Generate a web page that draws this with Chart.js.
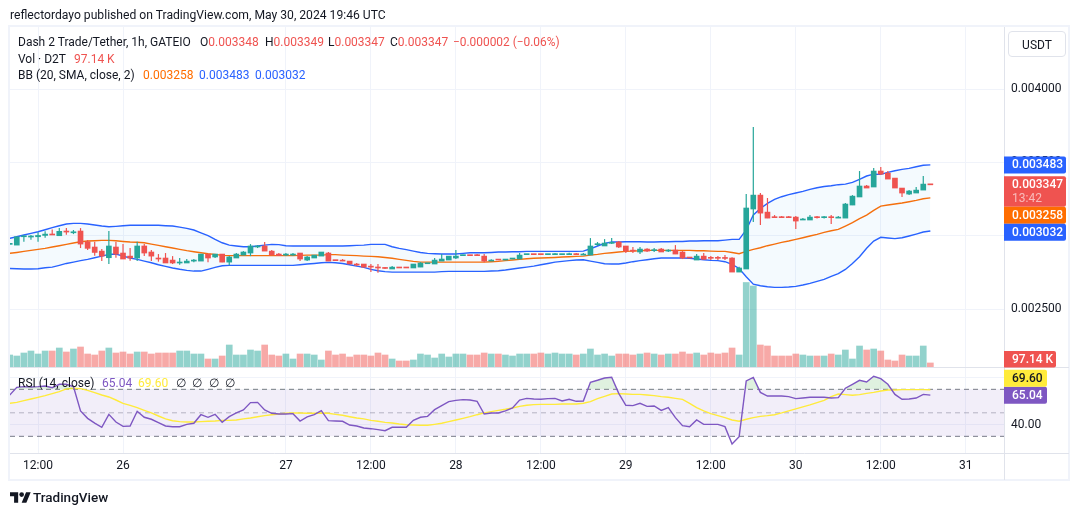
<!DOCTYPE html>
<html lang="en">
<head>
<meta charset="UTF-8">
<title>Dash 2 Trade/Tether, 1h, GATEIO</title>
<script src="https://cdn.jsdelivr.net/npm/chart.js@4.4.1/dist/chart.umd.js"></script>
<style>
  body { margin: 0; background: #fff; font-family: Roboto, sans-serif; font-size: 12px; color: #131722; }
  #wrap { position: relative; width: 1080px; height: 515px; overflow: hidden; }
  canvas { position: absolute; left: 0; top: 0; }
  .t { position: absolute; white-space: pre; line-height: 16px; }
  .red { color: #ef5350; } .org { color: #ff6d00; } .blu { color: #2962ff; } .pur { color: #7e57c2; } .yel { color: #ffeb3b; }
  #unit { position: absolute; left: 1008px; top: 31px; width: 56px; height: 24px; border: 1px solid #e0e3eb; border-radius: 4px; text-align: center; line-height: 26px; }
</style>
</head>
<body>
<div id="wrap">
  <canvas id="chart" width="1080" height="515"></canvas>
  <div class="t" style="left:10px;top:7px;font-size:12.15px">reflectordayo published on TradingView.com, May 30, 2024 19:46 UTC</div>
  <div class="t" style="left:18px;top:34px">Dash 2 Trade/Tether, 1h, GATEIO</div>
  <div class="t" style="left:200px;top:34px">O<span class="red">0.003348</span></div>
  <div class="t" style="left:265px;top:34px">H<span class="red">0.003349</span></div>
  <div class="t" style="left:328px;top:34px">L<span class="red">0.003347</span></div>
  <div class="t" style="left:390px;top:34px">C<span class="red">0.003347</span></div>
  <div class="t red" style="left:453px;top:34px;font-size:11.9px">−0.000002 (−0.06%)</div>
  <div class="t" style="left:18px;top:51px">Vol · D2T</div>
  <div class="t red" style="left:74px;top:51px">97.14 K</div>
  <div class="t" style="left:18px;top:67px">BB (20, SMA, close, 2)</div>
  <div class="t org" style="left:143px;top:67px">0.003258</div>
  <div class="t blu" style="left:199px;top:67px">0.003483</div>
  <div class="t blu" style="left:255px;top:67px">0.003032</div>
  <div class="t" style="left:18px;top:375px">RSI (14, close)</div>
  <div class="t pur" style="left:102px;top:375px">65.04</div>
  <div class="t yel" style="left:138px;top:375px">69.60</div>
  <div class="t" style="left:176px;top:375px">∅</div>
  <div class="t" style="left:192px;top:375px">∅</div>
  <div class="t" style="left:209px;top:375px">∅</div>
  <div class="t" style="left:225px;top:375px">∅</div>
  <div id="unit">USDT</div>
  <svg style="position:absolute;left:10px;top:491px" width="21" height="13" viewBox="0 0 36 22" fill="#131722"><path d="M14 20H7V9H0V2h14v18zM28 20h-8l7.5-18h8L28 20z"/><circle cx="20" cy="6" r="4"/></svg>
  <div class="t" style="left:33px;top:489px;font-size:13.5px;font-weight:500">TradingView</div>
</div>
<script>
// candles in millionths of USDT, one per hour bar
const opens = [2941,2936,2993,2991,2993,3002,3009,3000,3032,3020,
  3032,2959,2923,2895,2850,2923,2882,2861,2848,2930,
  2889,2848,2848,2834,2814,2814,2827,2827,2875,2855,
  2875,2820,2848,2868,2882,2923,2930,2895,2875,2868,
  2868,2882,2834,2848,2861,2882,2832,2832,2827,2807,
  2807,2791,2784,2782,2773,2784,2784,2780,2786,2809,
  2807,2827,2834,2848,2864,2868,2868,2861,2827,2839,
  2834,2841,2841,2871,2875,2875,2871,2871,2871,2871,
  2875,2868,2868,2939,2930,2948,2957,2930,2900,2889,
  2909,2898,2909,2895,2902,2889,2852,2834,2861,2850,
  2850,2852,2848,2752,2773,3182,3277,3161,3127,3127,
  3127,3127,3107,3107,3127,3123,3127,3120,3120,3209,
  3264,3339,3332,3441,3427,3393,3325,3284,3291,3311,3348];
const highs = [2948,2993,3000,3005,3023,3030,3043,3052,3052,3039,
  3052,2970,2959,2909,3032,2959,2943,2916,2959,2943,
  2902,2875,2882,2861,2848,2841,2841,2875,2875,2875,
  2875,2861,2882,2895,2943,2936,2957,2902,2882,2882,
  2882,2882,2861,2868,2889,2889,2832,2841,2827,2814,
  2807,2807,2807,2786,2793,2784,2784,2807,2820,2814,
  2848,2875,2861,2902,2871,2868,2875,2875,2839,2839,
  2841,2848,2882,2875,2875,2875,2875,2882,2875,2884,
  2882,2882,2984,2957,2977,2984,2964,2930,2923,2923,
  2914,2916,2916,2907,2936,2895,2852,2875,2882,2861,
  2861,2868,2854,2789,3284,3741,3291,3257,3141,3134,
  3134,3134,3120,3141,3134,3134,3141,3134,3223,3277,
  3441,3345,3461,3468,3441,3393,3325,3311,3332,3407,3349];
const lows = [2941,2936,2959,2973,2959,2986,3005,3000,3007,3011,
  2916,2902,2864,2827,2807,2850,2841,2830,2827,2861,
  2827,2823,2814,2807,2802,2814,2820,2827,2820,2848,
  2820,2798,2848,2868,2861,2916,2895,2868,2864,2861,
  2864,2827,2827,2848,2861,2827,2830,2827,2807,2793,
  2784,2752,2748,2773,2773,2780,2780,2780,2786,2809,
  2807,2827,2834,2841,2864,2864,2864,2820,2827,2834,
  2834,2841,2841,2871,2871,2871,2871,2871,2871,2871,
  2871,2868,2868,2930,2930,2943,2916,2882,2882,2875,
  2889,2889,2889,2889,2875,2841,2848,2834,2839,2834,
  2834,2834,2752,2752,2773,3093,3073,3120,3123,3123,
  3123,3045,3107,3107,3118,3118,3080,3120,3120,3209,
  3264,3325,3332,3414,3386,3325,3264,3277,3291,3311,3347];
const closes = [2948,2993,3000,2998,3002,3011,3005,3030,3025,3027,
  2943,2914,2886,2861,2930,2875,2841,2848,2930,2882,
  2861,2841,2814,2814,2820,2827,2834,2875,2848,2875,
  2820,2855,2875,2889,2930,2930,2895,2868,2864,2875,
  2875,2841,2855,2868,2889,2827,2830,2827,2807,2800,
  2786,2786,2780,2777,2786,2780,2780,2807,2814,2814,
  2834,2841,2861,2861,2871,2864,2864,2827,2834,2834,
  2841,2848,2868,2875,2871,2871,2875,2875,2875,2875,
  2871,2875,2930,2943,2950,2955,2923,2895,2895,2909,
  2895,2902,2889,2900,2875,2848,2848,2861,2839,2846,
  2846,2845,2752,2780,3189,3277,3154,3120,3123,3123,
  3123,3100,3114,3127,3123,3127,3123,3127,3216,3270,
  3339,3325,3441,3420,3386,3325,3291,3305,3311,3352,3347];

// Bollinger bands
const bbUpper = [2982,2993,3005,3016,3027,3041,3055,3068,3080,3084,
  3084,3080,3073,3066,3061,3064,3068,3071,3071,3071,
  3071,3071,3068,3066,3059,3050,3039,3020,3000,2975,
  2952,2936,2930,2925,2925,2930,2936,2941,2939,2932,
  2930,2930,2930,2930,2930,2930,2930,2930,2932,2934,
  2936,2941,2941,2941,2925,2914,2905,2895,2886,2880,
  2877,2875,2875,2875,2880,2884,2884,2884,2886,2889,
  2889,2891,2891,2893,2893,2893,2893,2893,2893,2893,
  2893,2895,2911,2930,2948,2957,2957,2959,2959,2959,
  2957,2957,2959,2959,2961,2961,2964,2964,2966,2966,
  2966,2970,2975,2975,3039,3141,3186,3220,3248,3266,
  3280,3291,3302,3316,3327,3336,3341,3348,3352,3364,
  3384,3407,3420,3418,3432,3443,3452,3459,3470,3480,3483];
const bbMiddle = [2880,2886,2893,2900,2907,2914,2923,2932,2941,2950,
  2959,2964,2966,2968,2968,2966,2961,2957,2955,2952,
  2943,2934,2925,2916,2907,2898,2891,2884,2877,2873,
  2866,2864,2864,2864,2864,2864,2864,2864,2864,2864,
  2864,2866,2868,2868,2868,2871,2871,2868,2866,2864,
  2861,2859,2857,2852,2846,2839,2832,2825,2820,2820,
  2820,2820,2820,2820,2820,2820,2820,2820,2823,2825,
  2830,2834,2839,2843,2846,2848,2850,2852,2855,2857,
  2859,2861,2868,2873,2880,2884,2889,2893,2895,2898,
  2900,2900,2900,2900,2900,2900,2900,2898,2898,2895,
  2893,2893,2886,2877,2893,2907,2918,2932,2943,2955,
  2964,2975,2986,2998,3009,3023,3034,3043,3066,3089,
  3116,3141,3173,3202,3209,3216,3223,3232,3241,3252,3258];
const bbLower = [2777,2775,2773,2773,2775,2782,2786,2798,2811,2820,
  2830,2839,2850,2861,2873,2875,2861,2848,2839,2827,
  2816,2802,2791,2780,2771,2764,2759,2759,2771,2784,
  2795,2798,2798,2798,2798,2798,2798,2798,2798,2798,
  2798,2802,2807,2811,2816,2818,2816,2811,2802,2793,
  2784,2771,2761,2755,2752,2752,2752,2752,2752,2752,
  2752,2755,2757,2757,2757,2757,2757,2757,2759,2761,
  2766,2773,2780,2786,2793,2802,2811,2820,2825,2830,
  2834,2836,2827,2818,2809,2807,2807,2814,2823,2830,
  2836,2843,2848,2848,2848,2848,2846,2841,2836,2832,
  2830,2823,2805,2777,2720,2670,2659,2652,2648,2648,
  2650,2655,2664,2675,2689,2702,2723,2741,2770,2811,
  2857,2914,2964,2989,2984,2980,2986,2998,3011,3025,3032];

// volume in thousands of D2T
const volumes = [288,264,336,384,312,384,384,456,360,432,
  480,312,288,384,456,336,360,312,360,360,
  312,336,336,336,384,384,312,312,192,192,
  264,528,288,288,408,384,528,288,264,312,
  192,312,312,288,168,384,288,312,240,288,
  288,264,336,288,192,144,144,168,312,288,
  216,312,240,312,312,288,288,336,312,312,
  288,264,312,312,312,336,312,336,312,312,
  288,312,432,288,312,264,312,312,288,312,
  336,312,288,312,312,360,312,336,288,336,
  312,336,456,288,2028,1944,528,504,264,264,
  264,312,288,264,264,264,312,288,408,192,
  504,408,432,384,168,144,288,264,264,504,97];

const rsi = [65.2,71.7,72.3,72.0,72.3,72.8,71.4,74.3,74.3,72.3,
  51.6,45.3,41.3,37.7,48.7,42.2,38.5,38.8,51.3,46.2,
  44.5,41.6,38.8,38.2,38.2,40.2,41.1,48.4,46.2,48.7,
  41.9,46.7,49.9,52.4,58.7,58.9,52.4,49.6,49.0,49.0,
  49.3,43.0,46.5,48.4,51.8,43.3,43.0,42.8,39.6,38.8,
  37.1,36.5,35.7,34.8,37.7,37.7,37.7,43.6,46.2,47.0,
  52.7,56.1,59.5,60.6,61.2,60.9,59.8,49.0,49.9,49.9,
  51.6,54.1,60.9,62.3,61.8,61.5,62.1,62.3,60.1,61.5,
  59.8,60.1,76.0,77.7,79.6,80.2,66.6,56.4,56.1,58.1,
  55.5,55.8,52.1,54.4,45.9,39.1,38.2,43.9,40.2,40.2,
  40.2,38.2,23.5,29.7,77.1,80.2,67.4,64.3,64.3,64.3,
  63.8,62.1,62.6,63.2,63.2,63.2,62.6,62.9,70.9,74.3,
  77.7,76.2,81.1,79.1,74.3,65.7,61.5,61.8,62.6,65.7,65.04];
const rsiMa = [58.1,58.9,60.4,61.8,63.2,64.6,66.3,68.0,70.3,70.9,
  70.6,69.1,67.2,65.2,63.5,60.9,58.1,56.4,54.4,52.1,
  49.9,47.3,44.8,43.3,42.5,42.2,42.2,42.5,42.8,43.0,
  43.6,43.6,43.9,44.8,45.6,46.7,47.6,48.4,49.0,49.6,
  49.9,49.9,49.6,49.6,49.9,49.6,48.7,47.9,46.7,45.6,
  44.8,43.6,42.8,41.9,41.3,40.5,39.9,39.6,39.4,39.4,
  40.2,41.1,42.5,43.9,45.3,46.7,48.4,49.9,51.0,52.1,
  53.0,54.1,55.5,56.4,57.0,57.2,57.2,57.2,57.5,57.5,
  57.5,58.1,59.5,62.1,64.0,66.0,66.3,66.0,65.7,65.7,
  65.2,64.6,63.8,63.2,62.3,61.5,58.1,54.4,51.6,49.3,
  47.6,45.9,43.9,42.8,44.5,45.9,47.0,47.6,48.4,49.9,
  51.6,53.3,55.0,56.7,58.7,60.6,63.8,66.0,65.5,64.9,
  65.5,66.6,67.4,68.6,69.4,69.4,69.7,69.7,69.7,69.7,69.6];
const rsiLevels = [70, 50, 30];

// axis ticks; time ticks are bar indexes
const timeTicks = [4, 16, 39, 51, 63, 75, 87, 99, 111, 123, 135];
const timeLabels = ['12:00', '26', '27', '12:00', '28', '12:00', '29', '12:00', '30', '12:00', '31'];
const priceTicks = [2500, 3000, 3500, 4000];
const rsiTicks = [40, 80];

const tagsPrice = [
  { value: 3483, text: ['0.003483'], bg: '#2962ff', fg: '#fff' },
  { value: 3347, text: ['0.003347', '13:42'], bg: '#ef5350', fg: '#fff' },
  { value: 3258, text: ['0.003258'], bg: '#ff6d00', fg: '#fff' },
  { value: 3032, text: ['0.003032'], bg: '#2962ff', fg: '#fff' }
];
const tagVolume = { value: 97, text: ['97.14 K'], bg: '#ef5350', fg: '#fff' };
const tagRsiMa = { value: 69.6, text: ['69.60'], bg: '#ffeb3b', fg: '#131722' };
const tagRsi = { value: 65.04, text: ['65.04'], bg: '#7e57c2', fg: '#fff' };

const up = '#26a69a', down = '#ef5350';
const font = 'Roboto, sans-serif';
const xMin = 0.04, xMax = 140.4;
const barColors = closes.map((c, i) => c >= opens[i] ? up : down);
const volColors = closes.map((c, i) => c >= opens[i] ? 'rgba(38,166,154,0.5)' : 'rgba(239,83,80,0.5)');
const xy = arr => arr.map((y, x) => ({ x, y }));
const flat = v => [{ x: xMin, y: v }, { x: xMax, y: v }];

function line(data, color, yAxisID, extra) {
  return Object.assign({ type: 'line', data, borderColor: color, borderWidth: 1.4, pointRadius: 0, tension: 0, yAxisID, fill: false }, extra);
}

function drawTag(ctx, area, top, h, w, tag) {
  ctx.fillStyle = tag.bg;
  ctx.beginPath();
  ctx.roundRect(area.right, top, w, h, [0, 2, 2, 0]);
  ctx.fill();
  ctx.textBaseline = 'middle';
  ctx.textAlign = 'left';
  tag.text.forEach((s, i) => {
    ctx.fillStyle = i ? 'rgba(255,255,255,0.6)' : tag.fg;
    ctx.font = (i ? '' : '500 ') + '12px ' + font;
    ctx.fillText(s, area.right + 8, top + 9 + i * 14);
  });
}

const panes = {
  id: 'panes',
  afterDraw(chart) {
    const ctx = chart.ctx, a = chart.chartArea, s = chart.scales;
    const split = s.y.bottom;
    ctx.save();
    // frame and pane lines
    ctx.strokeStyle = '#f0f3fa';
    ctx.lineWidth = 2;
    ctx.strokeRect(9, 26, 1060, 454);
    ctx.strokeStyle = '#e0e3eb';
    ctx.lineWidth = 1;
    ctx.beginPath();
    ctx.moveTo(a.right + 0.5, 27); ctx.lineTo(a.right + 0.5, 480);
    ctx.moveTo(10, Math.round(split) + 0.5); ctx.lineTo(1069, Math.round(split) + 0.5);
    ctx.moveTo(10, a.bottom + 0.5); ctx.lineTo(1069, a.bottom + 0.5);
    ctx.stroke();
    // price tags, each pushed down clear of the one above
    let next = 0;
    tagsPrice.forEach(tag => {
      const h = tag.text.length > 1 ? 30.5 : 17;
      const top = Math.max(s.y.getPixelForValue(tag.value) - 8.5, next);
      drawTag(ctx, a, top, h, 62, tag);
      next = top + h;
    });
    drawTag(ctx, a, s.yVol.getPixelForValue(tagVolume.value) - 12, 16.5, 52, tagVolume);
    // the RSI tag stays on its value and the average sits above it
    const rsiTop = s.yRsi.getPixelForValue(tagRsi.value) - 8.5;
    drawTag(ctx, a, rsiTop, 17, 43, tagRsi);
    drawTag(ctx, a, rsiTop - 17, 17, 43, tagRsiMa);
    ctx.restore();
  }
};

Chart.defaults.font.family = font;
Chart.defaults.font.size = 12;
Chart.defaults.color = '#131722';

new Chart(document.getElementById('chart').getContext('2d'), {
  data: {
    datasets: [
      // index 0-2: bands, upper fills to lower
      line(xy(bbUpper), '#2962ff', 'y', { order: 5, fill: { target: 2 }, backgroundColor: 'rgba(33,150,243,0.05)' }),
      line(xy(bbMiddle), '#ff6d00', 'y', { order: 5 }),
      line(xy(bbLower), '#2962ff', 'y', { order: 5 }),
      { type: 'bar', data: xy(volumes), yAxisID: 'yVol', backgroundColor: volColors, barThickness: 6, order: 9, grouped: false },
      { type: 'bar', data: highs.map((h, i) => ({ x: i, y: [lows[i], h] })), yAxisID: 'y', backgroundColor: barColors, barThickness: 1.2, inflateAmount: 0, order: 2, grouped: false },
      { type: 'bar', data: opens.map((o, i) => ({ x: i, y: [o, closes[i]] })), yAxisID: 'y', backgroundColor: barColors, barThickness: 5, minBarLength: 1, order: 1, grouped: false },
      // RSI band and levels, index 6 fills to index 8
      line(flat(rsiLevels[0]), '#787b86', 'yRsi', { order: 8, borderWidth: 1, borderDash: [5, 4], fill: { target: 8 }, backgroundColor: 'rgba(126,87,194,0.1)' }),
      line(flat(rsiLevels[1]), 'rgba(120,123,134,0.5)', 'yRsi', { order: 8, borderWidth: 1, borderDash: [5, 4] }),
      line(flat(rsiLevels[2]), '#787b86', 'yRsi', { order: 8, borderWidth: 1, borderDash: [5, 4] }),
      line(xy(rsiMa), '#ffeb3b', 'yRsi', { order: 4 }),
      line(xy(rsi), '#7e57c2', 'yRsi', { order: 3, fill: { target: { value: rsiLevels[0] }, above: 'rgba(76,175,80,0.18)', below: 'rgba(0,0,0,0)' } })
    ]
  },
  options: {
    responsive: false,
    animation: false,
    layout: { padding: { left: 10, top: 27, right: 10, bottom: 35 } },
    plugins: { legend: { display: false }, tooltip: { enabled: false } },
    scales: {
      x: {
        type: 'linear', offset: false, min: xMin, max: xMax,
        grid: { color: '#f0f3fa', drawTicks: false, offset: false },
        border: { display: false },
        ticks: { autoSkip: false, maxRotation: 0, padding: 6, callback: (v, i) => timeLabels[i] },
        afterBuildTicks: scale => { scale.ticks = timeTicks.map(value => ({ value })); },
        afterFit: scale => { scale.height = 27; }
      },
      y: {
        position: 'right', stack: 'right', stackWeight: 340, weight: 1, min: 2105, max: 4423,
        grid: { color: '#f0f3fa', drawTicks: false },
        border: { display: false },
        ticks: { padding: 7, callback: v => (v / 1e6).toFixed(6) },
        afterBuildTicks: scale => { scale.ticks = priceTicks.map(value => ({ value })); },
        afterFit: scale => { scale.width = 66; }
      },
      yRsi: {
        position: 'right', stack: 'right', stackWeight: 86, weight: 2, min: 15.8, max: 89,
        grid: { color: '#f0f3fa', drawTicks: false },
        border: { display: false },
        ticks: { padding: 7, callback: v => v.toFixed(2) },
        afterBuildTicks: scale => { scale.ticks = rsiTicks.map(value => ({ value })); },
        afterFit: scale => { scale.width = 66; }
      },
      // volume sits at the foot of the price pane, 24K per pixel
      yVol: { display: false, position: 'right', min: -2064, max: 8160 }
    }
  },
  plugins: [panes]
});
</script>
</body>
</html>
